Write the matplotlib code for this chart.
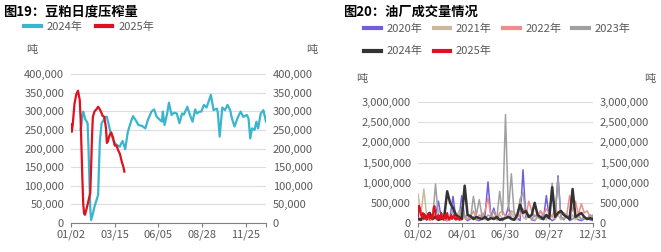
import numpy as np
import matplotlib.pyplot as plt
from matplotlib.ticker import FuncFormatter

plt.rcParams['font.family'] = ['Noto Sans CJK SC', 'DejaVu Sans']

# ---- 图19 data (trading-day index, tonnes) ----
x24 = [11, 12, 13, 14, 15, 16, 19, 20, 21, 22, 23, 25, 27, 29, 31, 32, 33, 35, 37, 39, 41, 43,
       45, 46, 48, 50, 52, 54, 56, 57, 59, 62, 65, 67, 69, 71, 75, 77, 81, 85, 88, 92, 95, 98,
       104, 105, 107, 110, 112, 115, 118, 121, 124, 127, 129, 133, 136, 139, 142, 144, 147,
       149, 152, 155, 160, 163, 167, 168, 170, 173, 176, 179, 182, 184, 187, 191, 194, 197,
       201, 203, 205, 207, 210, 212, 214, 217, 220, 223]
y24 = [250, 265, 290, 299, 290, 280, 268, 200, 120, 40, 8, 25, 45, 60, 75, 150, 220, 268, 275,
       285, 285, 265, 245, 236, 225, 215, 210, 207, 205, 212, 220, 198, 245, 260, 275, 287, 272,
       263, 261, 254, 277, 299, 305, 285, 272, 299, 263, 294, 323, 290, 296, 294, 268, 294, 291,
       312, 290, 272, 305, 294, 299, 299, 317, 310, 344, 303, 307, 294, 232, 310, 303, 317, 303,
       281, 259, 285, 299, 285, 290, 281, 227, 254, 250, 272, 254, 294, 303, 272]
x25 = [0, 1, 2, 4, 6, 8, 10, 11, 12, 13, 14, 15, 16, 18, 20, 22, 23, 24, 25, 27, 29, 31, 33, 35,
       36, 38, 40, 41, 42, 44, 46, 48, 50, 52, 54, 56, 58, 60, 61]
y25 = [265, 245, 265, 320, 345, 355, 330, 280, 200, 120, 50, 25, 22, 40, 60, 80, 150, 230, 285,
       300, 305, 312, 305, 295, 288, 285, 255, 215, 218, 235, 243, 230, 208, 208, 195, 185, 165,
       150, 138]
ticks19 = [0, 50, 100, 150, 200]
labels19 = ['01/02', '03/15', '06/05', '08/28', '11/25']

# ---- 图20 data (thousand tonnes, one value every 6 days; 2025 every 2 days) ----
v2020 = [100, 60, 120, 80, 150, 90, 200, 540, 120, 80, 60, 150, 660, 100, 80, 680, 120, 60, 100,
         150, 80, 60, 100, 200, 1020, 150, 370, 80, 100, 60, 150, 410, 100, 80, 120, 60, 1320,
         100, 200, 80, 60, 150, 100, 80, 680, 120, 60, 100, 1170, 150, 80, 200, 60, 100, 150, 80,
         60, 100, 120, 80, 60]
v2021 = [727, 200, 843, 150, 100, 200, 80, 150, 100, 250, 120, 80, 150, 100, 300, 80, 120, 100,
         200, 80, 150, 100, 250, 80, 100, 150, 120, 80, 200, 100, 150, 120, 250, 100, 80, 600, 150,
         100, 200, 120, 80, 150, 300, 100, 80, 250, 150, 100, 200, 80, 120, 150, 100, 200, 80, 150,
         100, 120, 80, 200, 150]
v2022 = [50, 100, 80, 150, 60, 100, 200, 80, 150, 100, 60, 150, 100, 250, 150, 80, 200, 100, 150,
         300, 100, 200, 150, 300, 620, 200, 150, 100, 250, 300, 150, 200, 300, 250, 150, 200, 350,
         200, 540, 300, 150, 200, 300, 200, 350, 250, 150, 400, 200, 300, 250, 200, 680, 300, 540,
         200, 480, 250, 300, 150, 200]
v2023 = [150, 100, 200, 100, 150, 80, 967, 150, 100, 200, 150, 80, 300, 150, 100, 400, 150, 200,
         100, 660, 200, 580, 150, 100, 200, 150, 300, 100, 785, 200, 2690, 300, 1220, 200, 150, 580,
         760, 200, 150, 100, 200, 150, 100, 200, 150, 100, 990, 200, 1120, 150, 100, 200, 150, 100,
         150, 200, 100, 150, 100, 200, 150]
v2024 = [100, 80, 220, 120, 250, 100, 150, 80, 100, 150, 785, 500, 370, 200, 150, 100, 925, 200,
         170, 100, 150, 120, 100, 150, 80, 120, 100, 150, 80, 100, 120, 150, 100, 80, 200, 455, 250,
         300, 150, 200, 500, 200, 150, 100, 200, 120, 885, 150, 250, 300, 200, 150, 100, 843, 150,
         200, 250, 150, 100, 120, 100]
v2025 = [165, 430, 370, 200, 150, 250, 100, 200, 150, 80, 200, 250, 100, 150, 180, 100, 370, 420,
         200, 150, 80, 200, 150, 100, 250, 120, 80, 150, 200, 100, 250, 150, 80, 120, 200, 100, 150,
         200, 100, 80, 150, 100, 120, 80]
ticks20 = [0, 90, 180, 270, 360]
labels20 = ['01/02', '04/01', '06/30', '09/27', '12/31']

grey = '#595959'
fmt = FuncFormatter(lambda v, p: f'{int(v):,}')

fig = plt.figure(figsize=(6.61, 2.52), dpi=100)


def style(ax):
    for s in ['top', 'right', 'left']:
        ax.spines[s].set_visible(False)
    ax.spines['bottom'].set_color('#7f7f7f')
    ax.grid(axis='y', color='#dcdce6', lw=0.8)
    ax.set_axisbelow(True)
    ax.tick_params(axis='y', length=0, labelsize=8, labelcolor=grey, labelright=True, pad=5)
    ax.tick_params(axis='x', length=3, color='#7f7f7f', labelsize=8, labelcolor=grey, pad=2)
    ax.yaxis.set_major_formatter(fmt)


def thick_handles(leg):
    for h in leg.get_lines():
        h.set_linewidth(3)


# ---- left chart ----
ax1 = fig.add_axes([71 / 661, 29 / 252, 195 / 661, 149 / 252])
ax1.plot(x24, np.array(y24) * 1000, color='#3bb5ce', lw=1.6, label='2024年')
ax1.plot(x25, np.array(y25) * 1000, color='#e0101e', lw=1.6, label='2025年')
ax1.set_ylim(0, 400000)
ax1.set_yticks(np.arange(0, 400001, 50000))
ax1.set_xlim(0, 223)
ax1.set_xticks(ticks19 + [223])
ax1.set_xticklabels(labels19 + [''])
style(ax1)
fig.text(0.005, 0.955, '图19：豆粕日度压榨量', fontsize=9.5, fontweight='bold', va='center')
fig.text(26 / 661, 1 - 50 / 252, '吨', fontsize=8, color=grey, va='center')
fig.text(306 / 661, 1 - 50 / 252, '吨', fontsize=8, color=grey, va='center')
leg1 = fig.legend(handles=ax1.get_lines(), loc='center left',
                  bbox_to_anchor=(0.03, 1 - 27 / 252), ncol=2, frameon=False, fontsize=8,
                  labelcolor=grey, handlelength=1.5, handletextpad=0.5, columnspacing=1.2,
                  borderaxespad=0)
thick_handles(leg1)

# ---- right chart ----
ax2 = fig.add_axes([418 / 661, 29 / 252, 175 / 661, 121 / 252])
cols = ['#6f5fe0', '#c9b99a', '#f28b8b', '#a0a0a0', '#333333', '#e0101e']
series = [v2020, v2021, v2022, v2023, v2024]
names = ['2020年', '2021年', '2022年', '2023年', '2024年']
for v, c, n in zip(series, cols, names):
    ax2.plot(np.arange(len(v)) * 6, np.array(v) * 1000, color=c,
             lw=1.8 if n == '2024年' else 1.1, label=n)
ax2.plot(np.arange(len(v2025)) * 2, np.array(v2025) * 1000, color=cols[5], lw=1.4, label='2025年')
ax2.set_ylim(0, 3000000)
ax2.set_yticks(np.arange(0, 3000001, 500000))
ax2.set_xlim(0, 360)
ax2.set_xticks(ticks20)
ax2.set_xticklabels(labels20)
style(ax2)
fig.text(343 / 661, 0.955, '图20：油厂成交量情况', fontsize=9.5, fontweight='bold', va='center')
fig.text(356 / 661, 1 - 79 / 252, '吨', fontsize=8, color=grey, va='center')
fig.text(644 / 661, 1 - 79 / 252, '吨', fontsize=8, color=grey, va='center')
h = ax2.get_lines()
# column-major filling -> reorder so rows read 2020..2023 / 2024, 2025
leg2 = fig.legend(handles=[h[0], h[4], h[1], h[5], h[2], h[3]], loc='upper left',
                  bbox_to_anchor=(360 / 661, 1 - 19 / 252), ncol=4, frameon=False, fontsize=8,
                  labelcolor=grey, handlelength=1.5, handletextpad=0.5, columnspacing=1.0,
                  borderaxespad=0, labelspacing=1.1)
thick_handles(leg2)

fig.savefig('out.png', dpi=100)
